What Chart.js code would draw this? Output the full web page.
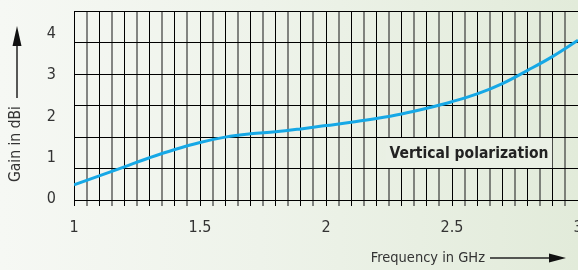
<!DOCTYPE html>
<html>
<head>
<meta charset="utf-8">
<script src="https://cdn.jsdelivr.net/npm/chart.js@4.4.1/dist/chart.umd.min.js"></script>
<style>
  html, body { margin: 0; padding: 0; overflow: hidden; width: 578px; height: 270px; }
  body { background: linear-gradient(to right, #f6f8f4 0%, #eef3ea 45%, #e2ebda 100%); }
  canvas { display: block; }
</style>
</head>
<body>
<canvas id="myChart" width="578" height="270"></canvas>
<script>
// frequency (GHz) and gain (dBi)
let freq = [1.0, 1.1, 1.2, 1.3, 1.4, 1.5, 1.6, 1.7, 1.8, 1.9, 2.0, 2.1, 2.2, 2.3, 2.4, 2.5, 2.6, 2.7, 2.8, 2.9, 3.0]
let gain = [0.34, 0.56, 0.78, 1.0, 1.2, 1.37, 1.5, 1.58, 1.63, 1.7, 1.78, 1.86, 1.95, 2.06, 2.2, 2.36, 2.55, 2.8, 3.12, 3.46, 3.85]

let xTickLabels = [1, 1.5, 2, 2.5, 3]
let yTickLabels = [0, 1, 2, 3, 4]
let seriesLabel = "Vertical polarization"
let xTitle = "Frequency in GHz"
let yTitle = "Gain in dBi"

const narrow = "'Liberation Sans Narrow', 'DejaVu Sans Condensed', sans-serif"

// vertical grid every 0.05 GHz
let xGrid = []
for (let i = 0; i <= 40; i++) xGrid.push(Math.round((1 + i * 0.05) * 100) / 100)

// fixed axis sizes so the plot area lands where the original has it
function noPad(s) {
  s.paddingTop = 0
  s.paddingBottom = 0
  s.paddingLeft = 0
  s.paddingRight = 0
}

// titles with arrows + the label box
const decorations = {
  id: 'decorations',
  afterDraw(chart) {
    const c = chart.ctx
    const x = chart.scales.x
    const y2 = chart.scales.y2
    c.save()

    // label box
    let bx1 = x.getPixelForValue(2.235), bx2 = x.getPixelForValue(2.9)
    let by1 = y2.getPixelForValue(2), by2 = y2.getPixelForValue(1)
    c.fillStyle = '#eaf0e5'
    c.fillRect(bx1, by1 + 1, bx2 - bx1 - 0.5, by2 - by1 - 1.5)
    c.fillStyle = '#222'
    c.font = "bold 15.5px " + narrow
    c.textAlign = 'center'
    c.textBaseline = 'middle'
    c.fillText(seriesLabel, (bx1 + bx2) / 2, (by1 + by2) / 2 + 1)

    c.fillStyle = '#333'
    c.strokeStyle = '#222'
    c.lineWidth = 1.5

    // x title + arrow
    c.font = "14.5px " + narrow
    c.textAlign = 'right'
    c.fillText(xTitle, 485, 258)
    c.beginPath(); c.moveTo(490, 258); c.lineTo(552, 258); c.stroke()
    c.fillStyle = '#111'
    c.beginPath(); c.moveTo(566, 258); c.lineTo(549, 253.5); c.lineTo(549, 262.5); c.closePath(); c.fill()

    // y title + arrow
    c.save()
    c.translate(16, 182)
    c.rotate(-Math.PI / 2)
    c.textAlign = 'left'
    c.fillStyle = '#333'
    c.font = "15.5px " + narrow
    c.fillText(yTitle, 0, 0)
    c.restore()
    c.beginPath(); c.moveTo(17, 98); c.lineTo(17, 42); c.stroke()
    c.fillStyle = '#111'
    c.beginPath(); c.moveTo(17, 26); c.lineTo(12.5, 46); c.lineTo(21.5, 46); c.closePath(); c.fill()

    c.restore()
  }
}

var ctx = document.getElementById('myChart').getContext('2d')

var myChart = new Chart(ctx, {
  type: 'line',
  data: {
    datasets: [{
      label: seriesLabel,
      data: freq.map((f, i) => ({x: f, y: gain[i]})),
      borderColor: '#16a8e6',
      borderWidth: 3,
      pointRadius: 0,
      tension: 0.4,
      fill: false,
      yAxisID: 'y'
    }]
  },
  options: {
    responsive: false,
    animation: false,
    layout: { padding: { left: 34, top: 11, right: 0, bottom: 0 } },
    plugins: { legend: { display: false }, tooltip: { enabled: false } },
    scales: {
      x: {
        type: 'linear',
        min: 1,
        max: 3,
        afterBuildTicks: (s) => { s.ticks = xGrid.map(v => ({value: v})) },
        afterFit: (s) => { s.height = 70; noPad(s) },
        ticks: {
          autoSkip: false,
          maxRotation: 0,
          padding: 12,
          color: '#333',
          font: { family: narrow, size: 16 },
          callback: (v) => xTickLabels.includes(Math.round(v * 100) / 100) ? String(Math.round(v * 100) / 100) : ''
        },
        grid: {
          color: (c) => c.index % 2 ? 'rgba(40,40,40,0.55)' : '#000',
          lineWidth: (c) => c.index % 2 ? 2 : 1,
          tickLength: 6
        },
        border: { color: '#000' }
      },
      y: {
        position: 'left',
        min: -0.025,
        max: 4.56,
        afterBuildTicks: (s) => { s.ticks = yTickLabels.map(v => ({value: v})) },
        afterFit: (s) => { s.width = 40; noPad(s) },
        ticks: {
          padding: 10,
          color: '#333',
          font: { family: narrow, size: 16 }
        },
        grid: { display: false },
        border: { color: '#000' }
      },
      y2: {
        position: 'left',
        min: 0,
        max: 6,
        afterFit: (s) => { s.width = 0; noPad(s) },
        ticks: { display: false, stepSize: 1 },
        grid: { color: '#000', lineWidth: 1, drawTicks: false },
        border: { display: false }
      }
    }
  },
  plugins: [decorations]
})
</script>
</body>
</html>
